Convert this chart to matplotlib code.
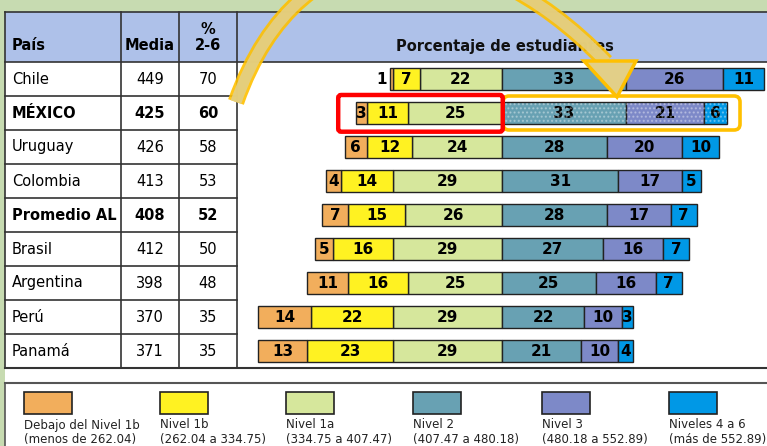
import numpy as np
import matplotlib.pyplot as plt
from matplotlib.patches import Rectangle, FancyBboxPatch, Polygon, PathPatch
from matplotlib.path import Path
import matplotlib.patheffects as pe

W, H = 767, 446

# Datos de la tabla
paises = ['Chile', 'MÉXICO', 'Uruguay', 'Colombia', 'Promedio AL',
          'Brasil', 'Argentina', 'Perú', 'Panamá']
media = [449, 425, 426, 413, 408, 412, 398, 370, 371]
pct_2_6 = [70, 60, 58, 53, 52, 50, 48, 35, 35]
destacados = ['MÉXICO', 'Promedio AL']

# Porcentaje de estudiantes por nivel
debajo_1b = [1, 3, 6, 4, 7, 5, 11, 14, 13]
nivel_1b = [7, 11, 12, 14, 15, 16, 16, 22, 23]
nivel_1a = [22, 25, 24, 29, 26, 29, 25, 29, 29]
nivel_2 = [33, 33, 28, 31, 28, 27, 25, 22, 21]
nivel_3 = [26, 21, 20, 17, 17, 16, 16, 10, 10]
nivel_4_6 = [11, 6, 10, 5, 7, 7, 7, 3, 4]

niveles = ['Debajo del Nivel 1b', 'Nivel 1b', 'Nivel 1a', 'Nivel 2', 'Nivel 3', 'Niveles 4 a 6']
rangos = ['(menos de 262.04)', '(262.04 a 334.75)', '(334.75 a 407.47)',
          '(407.47 a 480.18)', '(480.18 a 552.89)', '(más de 552.89)']
colores = ['#f2ae5c', '#fff222', '#d6e79c', '#68a1b3', '#7d89c8', '#0098e6']

# Geometría de la tabla (pixeles)
col_x = [5, 121, 179, 237]
top, head_bot, row_h = 12, 62, 34
n = len(paises)
tab_bot = head_bot + row_h * n

fig = plt.figure(figsize=(W / 100, H / 100), dpi=100, facecolor='#c7dbb1')

# Fondo y tabla
bg = fig.add_axes([0, 0, 1, 1])
bg.set_xlim(0, W)
bg.set_ylim(H, 0)
bg.axis('off')
bg.set_zorder(0)

bg.add_patch(Rectangle((5, top), W - 5, tab_bot - top, fc='white', ec='none'))
bg.add_patch(Rectangle((5, top), W - 5, head_bot - top, fc='#aec1e9', ec='none'))
bg.add_patch(Rectangle((5, tab_bot), W - 5, H - tab_bot, fc='white', ec='none'))

lc = '#333333'
for x in col_x:
    bg.plot([x, x], [top, tab_bot], color=lc, lw=1.2)
bg.plot([5, W], [top, top], color=lc, lw=1.2)
bg.plot([5, W], [head_bot, head_bot], color=lc, lw=1.2)
for i in range(1, n):
    y = head_bot + row_h * i
    bg.plot([col_x[0], col_x[-1]], [y, y], color=lc, lw=1.2)
bg.plot([5, W], [tab_bot, tab_bot], color=lc, lw=1.5)
bg.plot([5, W], [383, 383], color='#555555', lw=1.5)
bg.plot([5, 5], [383, H], color='#555555', lw=1.2)

# Encabezados
bg.text(12, 46, 'País', fontsize=10.5, fontweight='bold', va='center', ha='left')
bg.text(150, 46, 'Media', fontsize=10.5, fontweight='bold', va='center', ha='center')
bg.text(208, 29, '%', fontsize=10.5, fontweight='bold', va='center', ha='center')
bg.text(208, 46, '2-6', fontsize=10.5, fontweight='bold', va='center', ha='center')
bg.text(505, 46, 'Porcentaje de estudiantes', fontsize=10.5, fontweight='bold',
        va='center', ha='center', color='#111111')

for i, p in enumerate(paises):
    y = head_bot + row_h * (i + 0.5)
    fw = 'bold' if p in destacados else 'normal'
    bg.text(12, y, p, fontsize=10.5, fontweight=fw, va='center', ha='left')
    bg.text(150, y, str(media[i]), fontsize=10.5, fontweight=fw, va='center', ha='center')
    bg.text(208, y, str(pct_2_6[i]), fontsize=10.5, fontweight=fw, va='center', ha='center')

# Leyenda
leg_x = [24, 160, 286, 413, 542, 669]
for x0, nombre, rango, c in zip(leg_x, niveles, rangos, colores):
    bg.add_patch(Rectangle((x0, 392), 48, 22, fc=c, ec='#222222', lw=1.2))
    bg.text(x0, 425, nombre, fontsize=8.5, va='center', ha='left', color='#222222')
    bg.text(x0, 439, rango, fontsize=8.5, va='center', ha='left', color='#222222')

# Barras divergentes
ax = fig.add_axes([col_x[-1] / W, (H - tab_bot) / H, (W - col_x[-1]) / W, (tab_bot - head_bot) / H])
ax.set_zorder(1)
ax.patch.set_visible(False)
ax.set_xlim(-70.7, 70.7)
ax.set_ylim(n - 0.5, -0.5)
ax.axis('off')

filas = np.arange(n)
izq = [nivel_1a, nivel_1b, debajo_1b]
der = [nivel_2, nivel_3, nivel_4_6]
bar_h = 0.63


def etiquetar(lefts, widths):
    for y, l, w in zip(filas, lefts, widths):
        if w < 2:
            ax.text(l - 0.6, y, str(w), ha='right', va='center', fontsize=11, fontweight='bold')
        else:
            ax.text(l + w / 2, y, str(w), ha='center', va='center', fontsize=11, fontweight='bold')


acum = np.zeros(n)
for vals, c in zip(izq, colores[2::-1]):
    vals = np.array(vals)
    lefts = -(acum + vals)
    ax.barh(filas, vals, left=lefts, height=bar_h, color=c, edgecolor='#222222', lw=1.0)
    etiquetar(lefts, vals)
    acum += vals

acum = np.zeros(n)
for vals, c in zip(der, colores[3:]):
    vals = np.array(vals)
    ax.barh(filas, vals, left=acum, height=bar_h, color=c, edgecolor='#222222', lw=1.0)
    etiquetar(acum, vals)
    acum += vals

# Resaltar México
im = paises.index('MÉXICO')
der_mx = nivel_2[im] + nivel_3[im] + nivel_4_6[im]
izq_mx = nivel_1a[im] + nivel_1b[im] + debajo_1b[im]
ax.barh([im], [der_mx], left=0, height=bar_h, color='none', edgecolor=(1, 1, 1, 0.35),
        hatch='....', lw=0, zorder=3)
ax.add_patch(FancyBboxPatch((0.3, im - 0.5), der_mx + 3.2, 1.0,
                            boxstyle='round,pad=0,rounding_size=1.6', mutation_aspect=0.11,
                            fc='none', ec='#ffc000', lw=2.6, zorder=5, clip_on=False))
ax.add_patch(FancyBboxPatch((-izq_mx - 4.7, im - 0.53), izq_mx + 4.9, 1.08,
                            boxstyle='round,pad=0,rounding_size=0.8', mutation_aspect=0.11,
                            fc='none', ec='#ff0000', lw=3.2, zorder=6, clip_on=False))

# Flecha curva decorativa
fg = fig.add_axes([0, 0, 1, 1])
fg.set_zorder(2)
fg.patch.set_visible(False)
fg.set_xlim(0, W)
fg.set_ylim(H, 0)
fg.axis('off')

verts = [(236, 102), (300, -80), (470, -80), (606, 62)]
path = Path(verts, [Path.MOVETO, Path.CURVE4, Path.CURVE4, Path.CURVE4])
fg.add_patch(PathPatch(path, fc='none', ec='#e2cf88', lw=8, alpha=0.9,
                       path_effects=[pe.Stroke(linewidth=12, foreground='#ffc000'), pe.Normal()]))
fg.add_patch(Polygon([(584, 61), (636, 61), (617, 97)], closed=True,
                     fc='#e2cf88', ec='#ffc000', lw=2.5, joinstyle='miter'))

fig.savefig('out.png', dpi=100, facecolor=fig.get_facecolor())
